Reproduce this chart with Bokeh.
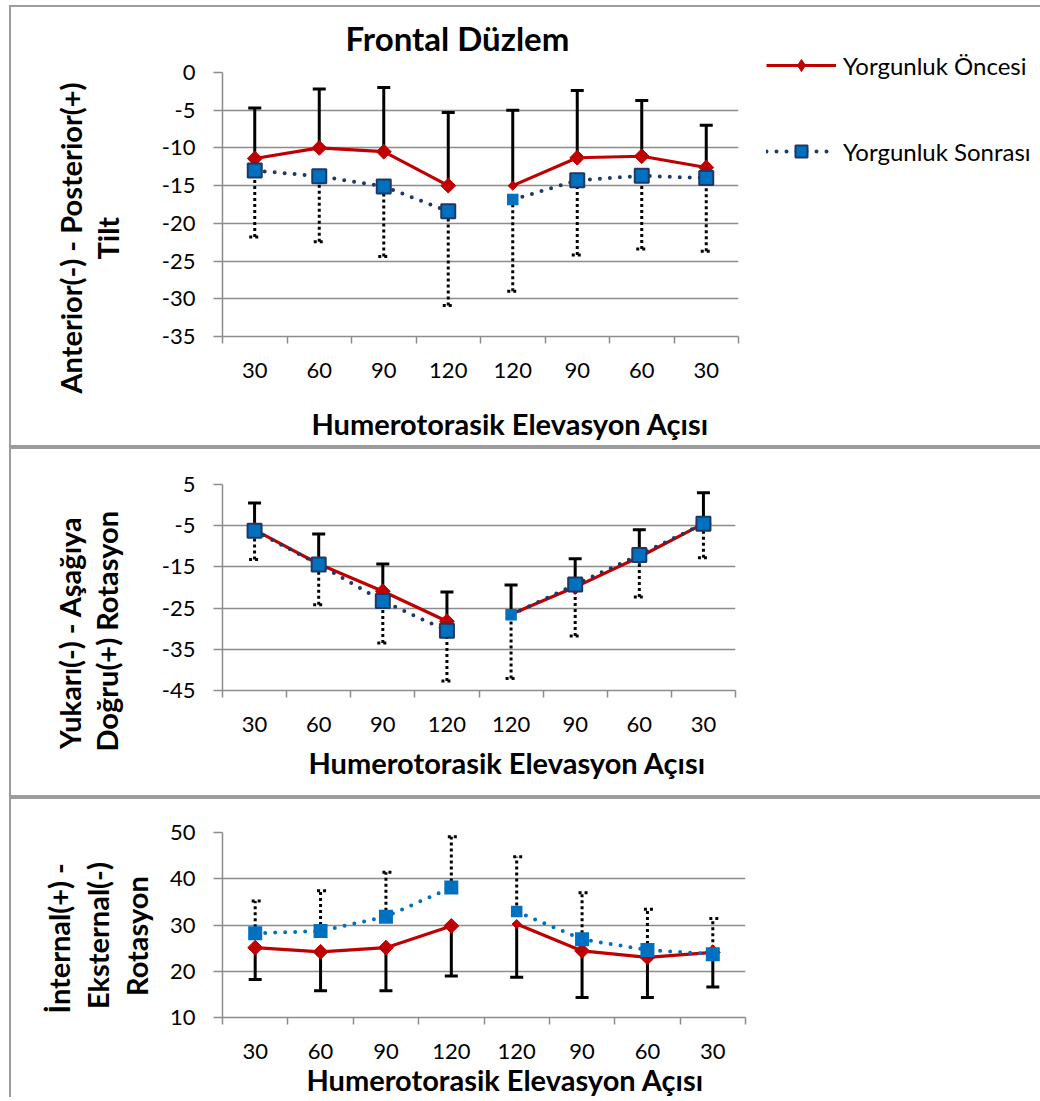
import numpy as np
from bokeh.plotting import figure
from bokeh.models import (ColumnDataSource, Range1d, FixedTicker, Whisker, TeeHead,
                          Title, Legend, LegendItem)
from bokeh.layouts import column
from bokeh.embed import file_html
from bokeh.resources import INLINE

# ---------------- data ----------------
categories = ["30", "60", "90", "120", "120", "90", "60", "30"]
series_names = ["Yorgunluk Öncesi", "Yorgunluk Sonrası"]
x_title = "Humerotorasik Elevasyon Açısı"
chart_title = "Frontal Düzlem"

# Panel 1 - Anterior(-)/Posterior(+) tilt
tilt_pre_mean = [-11.4, -10.0, -10.5, -15.0, -15.0, -11.3, -11.1, -12.6]
tilt_pre_sd = [6.7, 7.8, 8.5, 9.7, 10.0, 8.9, 7.4, 5.6]
tilt_post_mean = [-13.0, -13.75, -15.1, -18.4, -16.85, -14.3, -13.7, -14.0]
tilt_post_sd = [8.8, 8.7, 9.3, 12.5, 12.15, 9.9, 9.7, 9.7]
tilt_yticks = [0, -5, -10, -15, -20, -25, -30, -35]
tilt_ylabel = ["Anterior(-) - Posterior(+)", "Tilt"]

# Panel 2 - Yukarı(-)/Aşağıya Doğru(+) rotasyon
rot_pre_mean = [-6.0, -14.3, -20.9, -28.2, -26.5, -19.9, -12.6, -4.5]
rot_pre_sd = [6.5, 7.3, 6.6, 7.1, 7.1, 6.9, 6.6, 7.5]
rot_post_mean = [-6.2, -14.4, -23.3, -30.5, -26.6, -19.3, -12.1, -4.5]
rot_post_sd = [7.0, 9.8, 10.2, 12.2, 15.5, 12.5, 10.2, 8.3]
rot_yticks = [5, -5, -15, -25, -35, -45]
rot_ylabel = ["Yukarı(-) - Aşağıya", "Doğru(+) Rotasyon"]

# Panel 3 - İnternal(+)/Eksternal(-) rotasyon
ie_pre_mean = [25.1, 24.2, 25.1, 29.8, 30.2, 24.4, 23.0, 24.1]
ie_pre_sd = [6.9, 8.4, 9.3, 10.8, 11.5, 10.1, 8.7, 7.5]
ie_post_mean = [28.2, 28.7, 31.8, 38.1, 32.9, 26.9, 24.6, 23.7]
ie_post_sd = [7.0, 8.7, 9.6, 11.0, 11.85, 10.1, 8.8, 7.7]
ie_yticks = [10, 20, 30, 40, 50]
ie_ylabel = ["İnternal(+) -", "Eksternal(-)", "Rotasyon"]

# ---------------- style ----------------
FONT = "Lato"
GRID = "#8c8c8c"
RED = "#C00000"
NAVY = "#1F3864"
BLUE = "#0070C0"
BC = "#9c9c9c"
W = 1040

xc = np.arange(len(categories)) + 0.5
break_idx = 4  # the series lines are broken between the two halves


def border_css(top, h, bottom=True):
    g = f"linear-gradient({BC},{BC})"
    parts = [f"{g} 9px {top}px / 2px {h}px no-repeat",
             f"{g} 9px {top}px / {W - 9}px 2px no-repeat"]
    if bottom:
        parts.append(f"{g} 9px {top + h - 2}px / {W - 9}px 2px no-repeat")
    return {"background": ", ".join(parts)}


def spacer(px):
    return Title(text=" ", text_font_size="1px", standoff=max(px - 3.2, 0))


def bold_title(text, size, align_offset, vertical_align, standoff):
    return Title(text=text, align="left", offset=align_offset, vertical_align=vertical_align,
                 text_font=FONT, text_font_style="bold", text_font_size=size,
                 standoff=standoff, text_color="black")


def make_panel(cfg):
    left, fw, top, fh, bottom = cfg["geom"]
    p = figure(frame_width=fw, frame_height=fh, x_range=Range1d(0, len(categories)),
               y_range=Range1d(min(cfg["yticks"]), max(cfg["yticks"])),
               output_backend="svg", toolbar_location=None,
               min_border_left=left, min_border_right=W - left - fw,
               min_border_top=top, min_border_bottom=bottom)
    p.outline_line_color = None
    p.background_fill_color = "white"
    p.border_fill_color = None
    p.xgrid.visible = False
    p.ygrid.grid_line_color = GRID
    p.ygrid.grid_line_width = 1.5
    p.ygrid.ticker = FixedTicker(ticks=cfg["yticks"], minor_ticks=[])

    xa = p.xaxis[0]
    xa.ticker = FixedTicker(ticks=list(xc), minor_ticks=list(range(len(categories) + 1)))
    xa.major_label_overrides = {float(v): c for v, c in zip(xc, categories)}
    xa.major_tick_line_color = None
    xa.major_tick_out = 0
    xa.major_tick_in = 0
    xa.minor_tick_out = 7
    xa.minor_tick_in = 0
    xa.minor_tick_line_color = GRID
    xa.minor_tick_line_width = 1.5
    xa.axis_line_color = GRID
    xa.axis_line_width = 1.5
    xa.major_label_standoff = 19
    xa.major_label_text_font = FONT
    xa.major_label_text_font_size = "22px"
    xa.major_label_text_color = "black"

    ya = p.yaxis[0]
    ya.ticker = FixedTicker(ticks=cfg["yticks"], minor_ticks=[])
    ya.major_label_overrides = {t: str(t) for t in cfg["yticks"]}
    ya.major_tick_out = 9
    ya.major_tick_in = 0
    ya.major_tick_line_color = GRID
    ya.major_tick_line_width = 1.5
    ya.minor_tick_line_color = None
    ya.axis_line_color = GRID
    ya.axis_line_width = 1.5
    ya.major_label_standoff = 18
    ya.major_label_text_font = FONT
    ya.major_label_text_font_size = "22px"
    ya.major_label_text_color = "black"

    pre = np.array(cfg["pre"], dtype=float)
    pre_sd = np.array(cfg["pre_sd"], dtype=float)
    post = np.array(cfg["post"], dtype=float)
    post_sd = np.array(cfg["post_sd"], dtype=float)
    sign_pre, sign_post = cfg["pre_dir"], cfg["post_dir"]
    big = np.arange(len(categories)) != break_idx

    src = ColumnDataSource(dict(
        x=xc, pre=pre, post=post,
        pre_end=pre + sign_pre * pre_sd, post_end=post + sign_post * post_sd,
        dsize=np.where(big, 10.5, 6.5),
        ssize=np.where(big, 14, 11.5),
        sline=np.where(big, cfg["post_outline_w"], 0),
    ))

    def whisker(col, end, dirn, dash, cap):
        lo, hi = (col, end) if dirn > 0 else (end, col)
        head = TeeHead(size=cap, line_color="black", line_width=3, line_dash=dash)
        p.add_layout(Whisker(source=src, base="x", lower=lo, upper=hi, dimension="height",
                             line_color="black", line_width=3, line_dash=dash,
                             line_cap="butt", upper_head=head if dirn > 0 else None,
                             lower_head=head if dirn < 0 else None, level="underlay"))

    whisker("pre", "pre_end", sign_pre, "solid", 13)
    whisker("post", "post_end", sign_post, "3 3", 11)

    r_lines = [p.line(xc[s], pre[s], line_color=RED, line_width=3.2)
               for s in (slice(0, break_idx), slice(break_idx, None))]
    p.scatter("x", "pre", source=src, marker="square", angle=np.pi / 4,
              size="dsize", fill_color=RED, line_color=RED, line_width=1)
    b_lines = [p.line(xc[s], post[s], line_color=cfg["post_line"], line_width=4,
                      line_dash="0 10", line_cap="round")
               for s in (slice(0, break_idx), slice(break_idx, None))]
    b_mark = p.scatter("x", "post", source=src, marker="square", size="ssize",
                       fill_color=BLUE, line_color=cfg["post_outline"], line_width="sline")

    p.add_layout(spacer(cfg["yspace"]), "left")
    for line, off in reversed(list(zip(cfg["ylabel"], cfg["yoff"]))):
        p.add_layout(bold_title(line, "29px", off, "middle", cfg["ystand"]), "left")
    if cfg["xspace"] > 0:
        p.add_layout(spacer(cfg["xspace"]), "below")
    p.add_layout(bold_title(x_title, "29px", cfg["xoff"], "top", 0), "below")

    total_h = top + fh + bottom
    p.styles = border_css(cfg["btop"], total_h - cfg["btop"], cfg["bottom"])
    return p, r_lines, b_lines, b_mark


p1, r1, b1, bm1 = make_panel(dict(
    geom=(216, 516, 72, 264, 111), yticks=tilt_yticks,
    pre=tilt_pre_mean, pre_sd=tilt_pre_sd, post=tilt_post_mean, post_sd=tilt_post_sd,
    pre_dir=1, post_dir=-1, post_line=NAVY, post_outline=NAVY, post_outline_w=2,
    ylabel=tilt_ylabel, yoff=[-57, 77], yspace=33, ystand=0, xspace=25.3, xoff=89,
    btop=5, bottom=True))
p1.title.text = chart_title
p1.title.align = "left"
p1.title.offset = 123
p1.title.vertical_align = "bottom"
p1.title.text_font = FONT
p1.title.text_font_style = "bold"
p1.title.text_font_size = "33px"
p1.title.text_color = "black"
p1.title.standoff = 30

leg_diamond = p1.scatter([np.nan], [np.nan], marker="diamond", fill_color=RED, line_color=RED)
legend = Legend(items=[LegendItem(label=series_names[0], renderers=[r1[0], leg_diamond]),
                       LegendItem(label=series_names[1], renderers=[b1[0], bm1])],
                location=(28, 170), orientation="vertical", glyph_width=70, glyph_height=30,
                label_height=30, spacing=56, padding=0, margin=0, label_standoff=7,
                border_line_color=None, background_fill_alpha=0,
                label_text_font=FONT, label_text_font_size="24px", label_text_color="black")
p1.add_layout(legend, "right")

p2, *_ = make_panel(dict(
    geom=(222, 513, 37, 206, 107), yticks=rot_yticks,
    pre=rot_pre_mean, pre_sd=rot_pre_sd, post=rot_post_mean, post_sd=rot_post_sd,
    pre_dir=1, post_dir=-1, post_line=NAVY, post_outline=NAVY, post_outline_w=2,
    ylabel=rot_ylabel, yoff=[-58.5, -61], yspace=34, ystand=0, xspace=9.6, xoff=86,
    btop=0, bottom=True))

p3, *_ = make_panel(dict(
    geom=(219, 523, 35, 185, 80), yticks=ie_yticks,
    pre=ie_pre_mean, pre_sd=ie_pre_sd, post=ie_post_mean, post_sd=ie_post_sd,
    pre_dir=-1, post_dir=1, post_line=BLUE, post_outline=BLUE, post_outline_w=0,
    ylabel=ie_ylabel, yoff=[4, 8.5, 21.5], yspace=11, ystand=2, xspace=0, xoff=84,
    btop=0, bottom=False))

layout = column(p1, p2, p3, spacing=0)
open("out.html", "w").write(file_html(layout, INLINE))
